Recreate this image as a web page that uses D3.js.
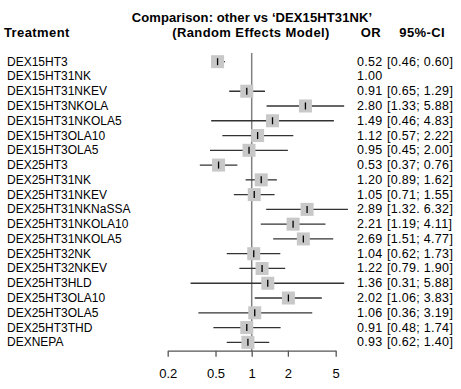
<!DOCTYPE html>
<html>
<head>
<meta charset="utf-8">
<script src="https://cdn.jsdelivr.net/npm/d3@7"></script>
<style>
body{margin:0;background:#fff;}
text{font-family:"Liberation Sans",Arial,sans-serif;}
</style>
</head>
<body>
<div id="graph"></div>
<script>
// forest plot data
var treatments = ["DEX15HT3","DEX15HT31NK","DEX15HT31NKEV","DEX15HT3NKOLA","DEX15HT31NKOLA5",
  "DEX15HT3OLA10","DEX15HT3OLA5","DEX25HT3","DEX25HT31NK","DEX25HT31NKEV","DEX25HT31NKNaSSA",
  "DEX25HT31NKOLA10","DEX25HT31NKOLA5","DEX25HT32NK","DEX25HT32NKEV","DEX25HT3HLD",
  "DEX25HT3OLA10","DEX25HT3OLA5","DEX25HT3THD","DEXNEPA"];
var orValues = [0.52,1.00,0.91,2.80,1.49,1.12,0.95,0.53,1.20,1.05,2.89,2.21,2.69,1.04,1.22,1.36,2.02,1.06,0.91,0.93];
var lowerCI = [0.46,null,0.65,1.33,0.46,0.57,0.45,0.37,0.89,0.71,1.32,1.19,1.51,0.62,0.79,0.31,1.06,0.36,0.48,0.62];
var upperCI = [0.60,null,1.29,5.88,4.83,2.22,2.00,0.76,1.62,1.55,6.32,4.11,4.77,1.73,1.90,5.88,3.83,3.19,1.74,1.40];
var ciLabels = ["[0.46; 0.60]","","[0.65; 1.29]","[1.33; 5.88]","[0.46; 4.83]","[0.57; 2.22]",
  "[0.45; 2.00]","[0.37; 0.76]","[0.89; 1.62]","[0.71; 1.55]","[1.32. 6.32]","[1.19; 4.11]",
  "[1.51; 4.77]","[0.62; 1.73]","[0.79. 1.90]","[0.31; 5.88]","[1.06; 3.83]","[0.36; 3.19]",
  "[0.48; 1.74]","[0.62; 1.40]"];
var tickValues = [0.2,0.5,1,2,5];

var svg = d3.select("#graph").append("svg").attr("width",461).attr("height",389);

var x = d3.scaleLog().domain([0.2,5]).range([167.7,335.7]);
var y = d3.scaleBand().domain(d3.range(treatments.length)).range([54.3,349.7]);
var yc = function(i){ return y(i) + y.bandwidth()/2; };

// headers
svg.append("text").attr("x",4).attr("y",37).attr("font-weight","bold").attr("font-size",13)
  .attr("letter-spacing",0.4).text("Treatment");
svg.append("text").attr("x",252).attr("y",22).attr("text-anchor","middle").attr("font-weight","bold").attr("font-size",13)
  .attr("letter-spacing",0.1).text("Comparison: other vs \u2018DEX15HT31NK\u2019");
svg.append("text").attr("x",251).attr("y",37).attr("text-anchor","middle").attr("font-weight","bold").attr("font-size",13)
  .attr("letter-spacing",0.4).text("(Random Effects Model)");
svg.append("text").attr("x",371).attr("y",37).attr("text-anchor","middle").attr("font-weight","bold").attr("font-size",13)
  .attr("letter-spacing",0.4).text("OR");
svg.append("text").attr("x",445).attr("y",37).attr("text-anchor","end").attr("font-weight","bold").attr("font-size",13)
  .attr("letter-spacing",0.4).text("95%-CI");

// reference line at 1
svg.append("line").attr("x1",x(1)).attr("x2",x(1)).attr("y1",53).attr("y2",351)
  .attr("stroke","#808080").attr("stroke-width",1.5);

var rows = svg.selectAll("g.row").data(treatments).enter().append("g").attr("class","row");

rows.append("text").attr("x",7).attr("y",function(d,i){ return yc(i)+4; })
  .attr("font-size",12).text(function(d){ return d; });

rows.filter(function(d,i){ return lowerCI[i] != null; }).each(function(d){
  var i = treatments.indexOf(d);
  var g = d3.select(this);
  g.append("line").attr("x1",x(lowerCI[i])).attr("x2",x(upperCI[i]))
    .attr("y1",yc(i)).attr("y2",yc(i)).attr("stroke","#333").attr("stroke-width",1.3);
  g.append("rect").attr("x",x(orValues[i])-6.5).attr("y",yc(i)-6.5).attr("width",13).attr("height",13)
    .attr("fill","#c8c8c8");
  g.append("line").attr("x1",x(orValues[i])).attr("x2",x(orValues[i]))
    .attr("y1",yc(i)-3.5).attr("y2",yc(i)+3.5).attr("stroke","#000").attr("stroke-width",1.3);
});

rows.append("text").attr("x",357).attr("y",function(d,i){ return yc(i)+4; })
  .attr("font-size",12.5).attr("letter-spacing",0.3)
  .text(function(d,i){ return orValues[i].toFixed(2); });
rows.append("text").attr("x",387).attr("y",function(d,i){ return yc(i)+4; })
  .attr("font-size",12.5).attr("letter-spacing",0.3)
  .text(function(d,i){ return ciLabels[i]; });

// x axis
var xAxis = d3.axisBottom(x).tickValues(tickValues).tickFormat(d3.format("")).tickSize(6).tickSizeOuter(0);
var ax = svg.append("g").attr("transform","translate(0,350.7)").call(xAxis);
ax.select(".domain").attr("stroke","#555").attr("stroke-width",1.3);
ax.selectAll(".tick line").attr("stroke","#555").attr("stroke-width",1.3);
ax.selectAll(".tick text").attr("font-size",13).attr("fill","#000").attr("dy",0).attr("y",27)
  .attr("font-family","Liberation Sans, Arial, sans-serif");
</script>
</body>
</html>
